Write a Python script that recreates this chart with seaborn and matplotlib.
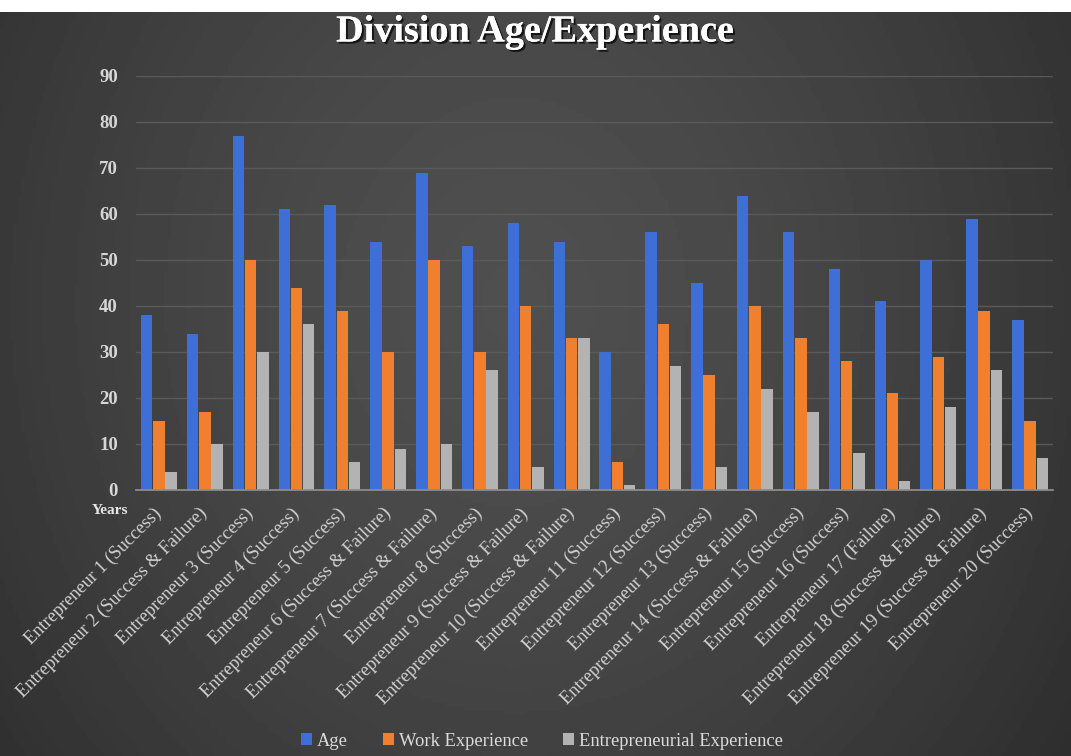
import numpy as np
import pandas as pd
import matplotlib
matplotlib.use("Agg")
import matplotlib.pyplot as plt
import matplotlib.patheffects as pe
from matplotlib.patches import Patch, Rectangle
import seaborn as sns

categories = [
    "Entrepreneur 1 (Success)", "Entrepreneur 2 (Success & Failure)", "Entrepreneur 3 (Success)",
    "Entrepreneur 4 (Success)", "Entrepreneur 5 (Success)", "Entrepreneur 6 (Success & Failure)",
    "Entrepreneur 7 (Success & Failure)", "Entrepreneur 8 (Success)", "Entrepreneur 9 (Success & Failure)",
    "Entrepreneur 10 (Success & Failure)", "Entrepreneur 11 (Success)", "Entrepreneur 12 (Success)",
    "Entrepreneur 13 (Success)", "Entrepreneur 14 (Success & Failure)", "Entrepreneur 15 (Success)",
    "Entrepreneur 16 (Success)", "Entrepreneur 17 (Failure)", "Entrepreneur 18 (Success & Failure)",
    "Entrepreneur 19 (Success & Failure)", "Entrepreneur 20 (Success)",
]
age = [38, 34, 77, 61, 62, 54, 69, 53, 58, 54, 30, 56, 45, 64, 56, 48, 41, 50, 59, 37]
work_exp = [15, 17, 50, 44, 39, 30, 50, 30, 40, 33, 6, 36, 25, 40, 33, 28, 21, 29, 39, 15]
entre_exp = [4, 10, 30, 36, 6, 9, 10, 26, 5, 33, 1, 27, 5, 22, 17, 8, 2, 18, 26, 7]
series_names = ["Age", "Work Experience", "Entrepreneurial Experience"]
colors = ["#3d6fd6", "#f07f2e", "#b3b3b3"]
y_ticks = [0, 10, 20, 30, 40, 50, 60, 70, 80, 90]

df = pd.DataFrame({
    "Entrepreneur": categories * 3,
    "Series": sum([[s] * len(categories) for s in series_names], []),
    "Value": age + work_exp + entre_exp,
})

sns.set_theme(style="dark")
plt.rcParams["font.family"] = ["Liberation Serif", "DejaVu Serif"]

W, H = 1071, 756
fig = plt.figure(figsize=(W / 100, H / 100), dpi=100)

# background gradient
bg = fig.add_axes([0, 0, 1, 1], zorder=-10)
yy, xx = np.mgrid[0:1:200j, 0:1:300j]
r = np.sqrt(((xx - 0.48) / 0.6) ** 2 + ((yy - 0.6) / 1.0) ** 2)
img = np.clip(0.31 - 0.12 * r ** 1.5, 0.16, 0.32)
bg.imshow(img, cmap="gray", vmin=0, vmax=1, extent=[0, 1, 0, 1], aspect="auto", origin="lower")
bg.axis("off")
fig.patches.append(Rectangle((0, 1 - 12 / H), 1, 12 / H, transform=fig.transFigure,
                             facecolor="white", edgecolor="none", zorder=-5))

ax_left, ax_right, ax_top, ax_bottom = 136, 1053, 76, 490
ax = fig.add_axes([ax_left / W, 1 - ax_bottom / H, (ax_right - ax_left) / W, (ax_bottom - ax_top) / H])
ax.set_facecolor("none")
sns.barplot(data=df, x="Entrepreneur", y="Value", hue="Series", palette=colors,
            hue_order=series_names, order=categories, width=0.8, gap=0.06,
            ax=ax, legend=False, saturation=1, linewidth=0, edgecolor="none")

ax.set_ylim(0, 90)
ax.set_xlim(-0.5, len(categories) - 0.5)
ax.set_yticks(y_ticks)
ax.set_yticklabels([str(t) for t in y_ticks], color="#d6d6d6", fontsize=13.5, fontweight="bold")
ax.yaxis.grid(True, color="#5a5a5a", linewidth=1.0)
ax.xaxis.grid(False)
ax.set_axisbelow(True)
for s in ["top", "right", "left"]:
    ax.spines[s].set_visible(False)
ax.spines["bottom"].set_color("#8c8c8c")
ax.spines["bottom"].set_linewidth(1.3)
ax.tick_params(axis="y", length=0, pad=13)
ax.tick_params(axis="x", length=0, pad=15)
ax.set_xticks(range(len(categories)))
ax.set_xticklabels(categories, rotation=45, ha="right", va="center", rotation_mode="anchor",
                   color="#d2d2d2", fontsize=13.2)
ax.set_xlabel("")
ax.set_ylabel("")

fig.text(128 / W, 1 - 510 / H, "Years", color="#e6e6e6", fontsize=11,
         fontweight="bold", ha="right", va="center")

fig.text(535 / W, 1 - 32 / H, "Division Age/Experience", color="white", fontsize=27.5,
         fontweight="bold", ha="center", va="center",
         path_effects=[pe.withSimplePatchShadow(offset=(1.5, -1.5), shadow_rgbFace="black", alpha=0.7),
                       pe.Normal()])

handles = [Patch(facecolor=c, edgecolor="none", label=n) for c, n in zip(colors, series_names)]
leg = fig.legend(handles=handles, loc="center", bbox_to_anchor=(542 / W, 1 - 741 / H), ncol=3,
                 frameon=False, fontsize=13.3, handlelength=0.6, handleheight=0.6,
                 handletextpad=0.25, columnspacing=1.9)
for t in leg.get_texts():
    t.set_color("#dcdcdc")

fig.savefig("out.png", dpi=100)
